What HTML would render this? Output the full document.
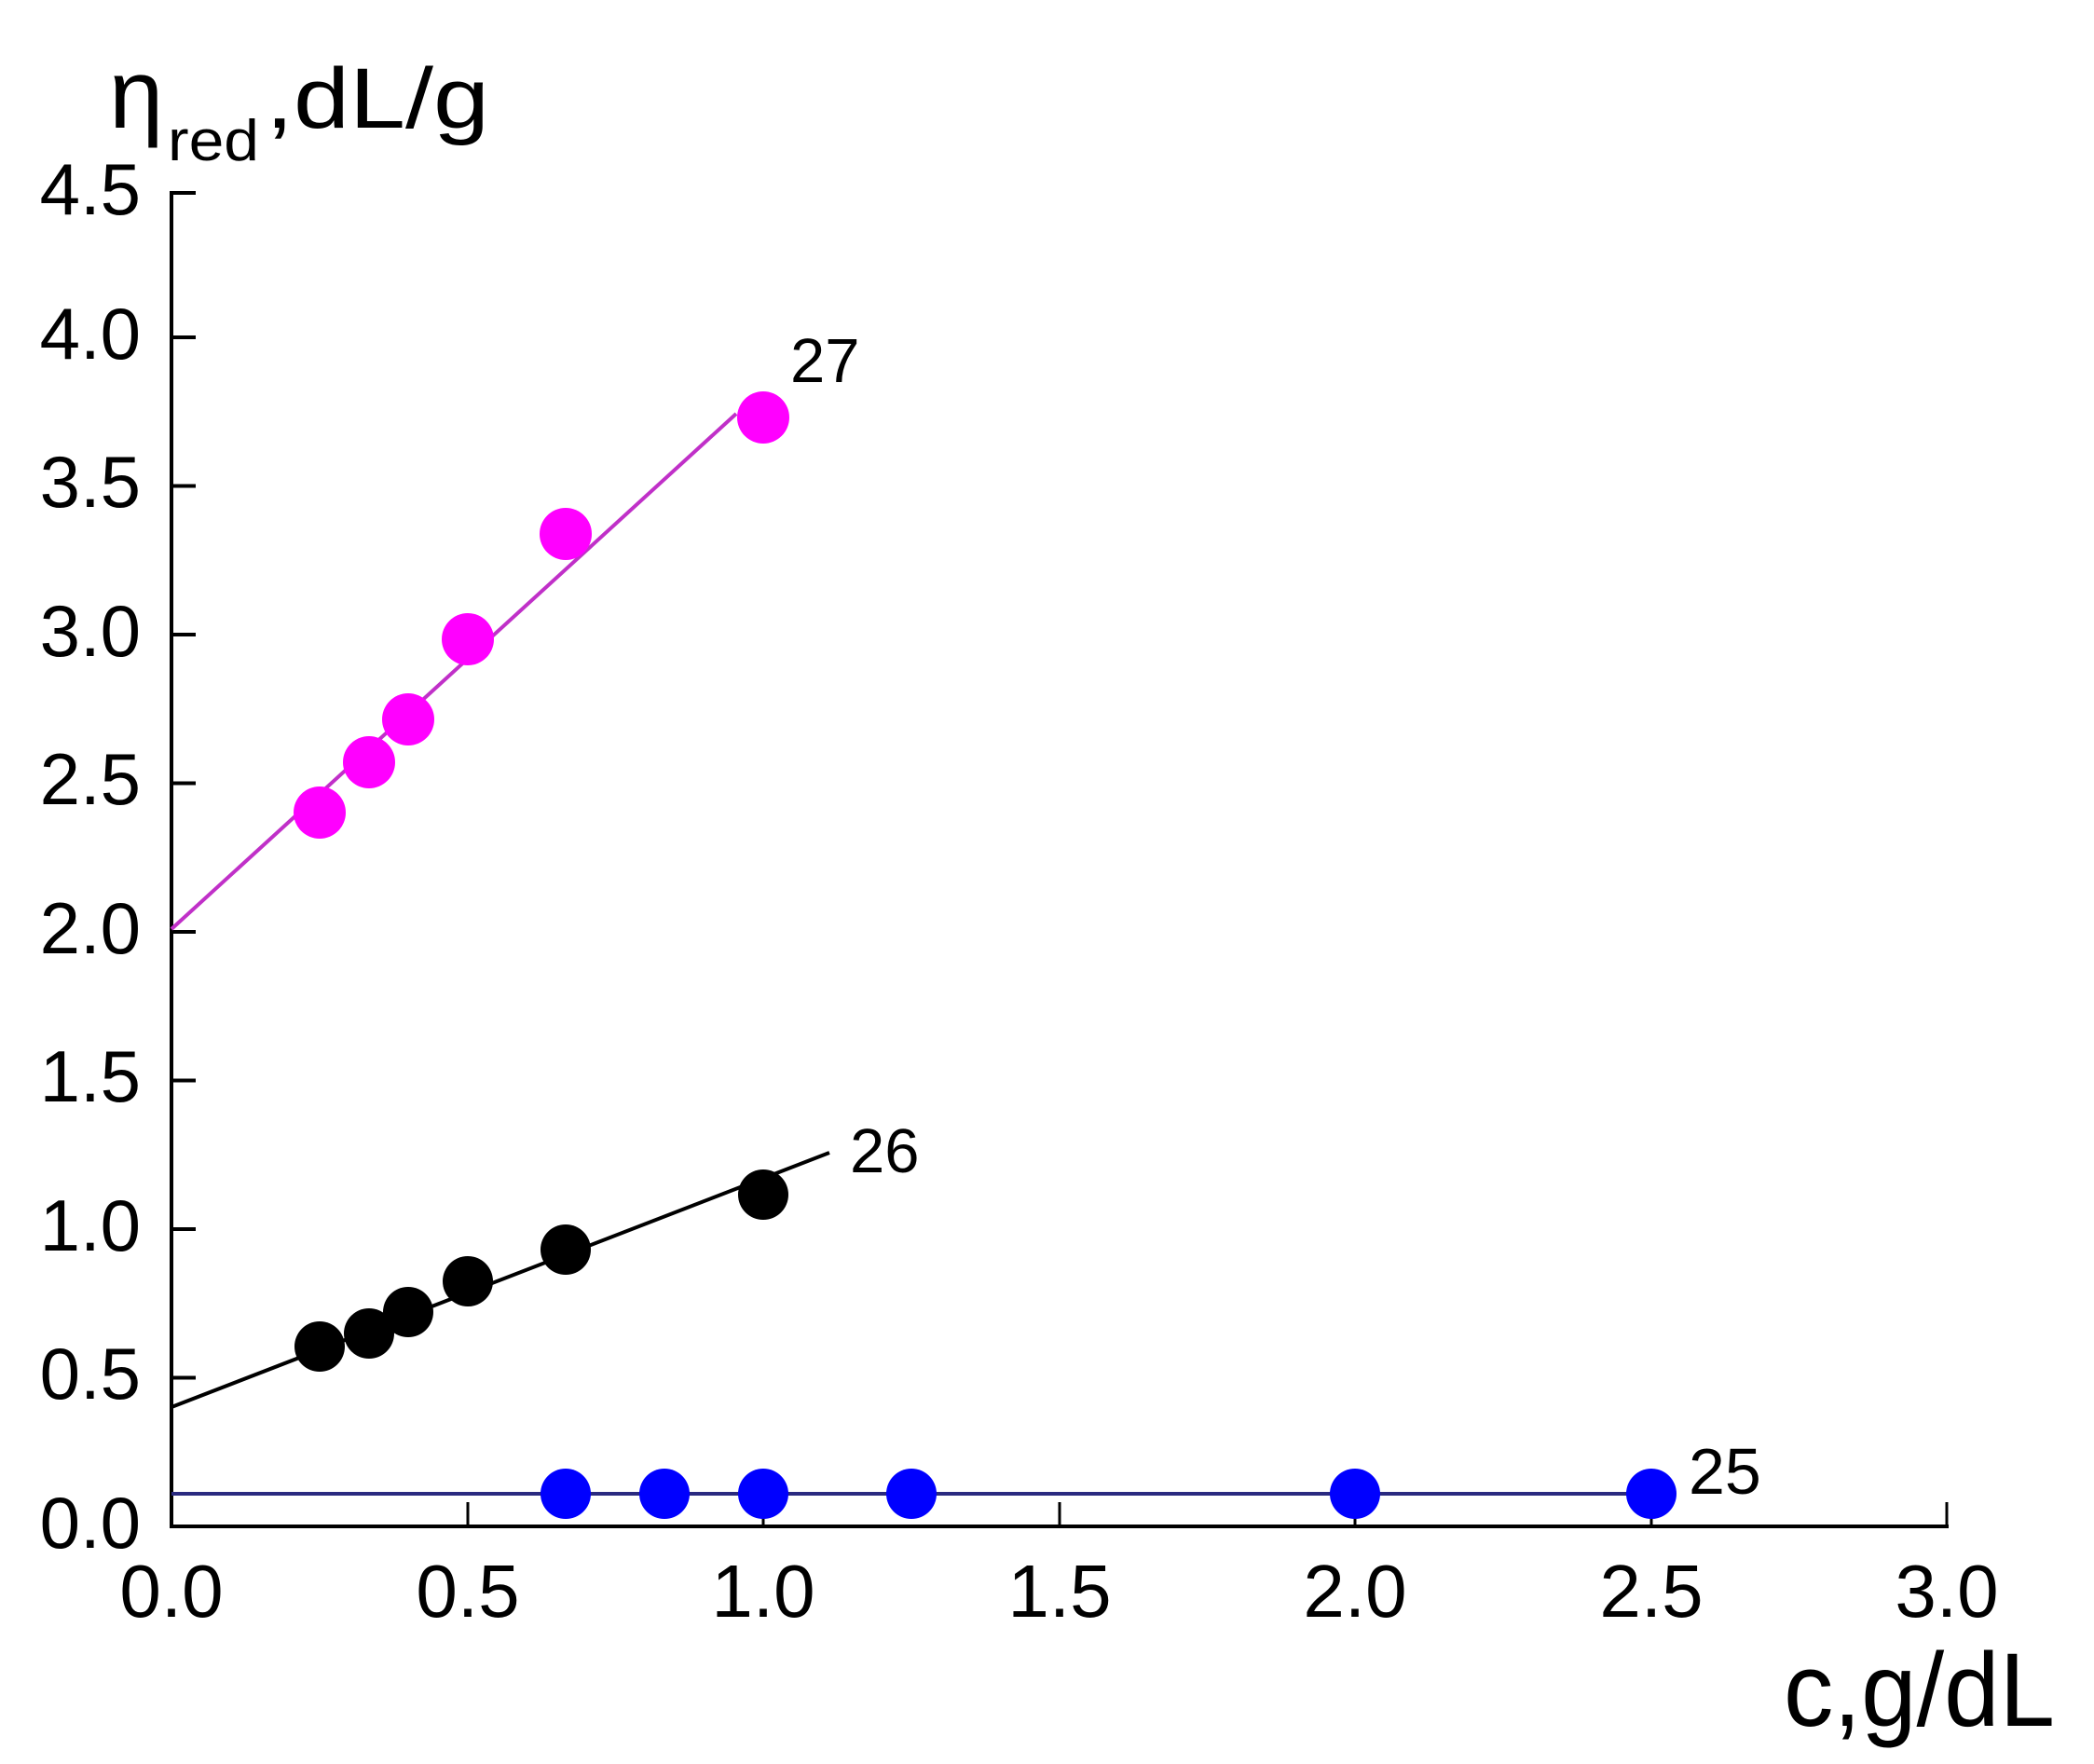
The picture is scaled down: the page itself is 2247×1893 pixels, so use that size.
<!DOCTYPE html>
<html><head><meta charset="utf-8"><style>
html,body{margin:0;padding:0;background:#fff;}
svg{display:block;font-family:"Liberation Sans",Arial,sans-serif;}
</style></head><body>
<svg width="2247" height="1893" viewBox="0 0 2247 1893" xmlns="http://www.w3.org/2000/svg">
<rect width="2247" height="1893" fill="#fff"/>
<g stroke="#000" stroke-width="4" fill="none">
<line x1="184" y1="205" x2="184" y2="1640"/>
<line x1="182" y1="1638" x2="2091" y2="1638"/>
<line x1="184" y1="1638" x2="210" y2="1638"/>
<line x1="184" y1="1478.5" x2="210" y2="1478.5"/>
<line x1="184" y1="1319" x2="210" y2="1319"/>
<line x1="184" y1="1159.5" x2="210" y2="1159.5"/>
<line x1="184" y1="1000" x2="210" y2="1000"/>
<line x1="184" y1="840.5" x2="210" y2="840.5"/>
<line x1="184" y1="681" x2="210" y2="681"/>
<line x1="184" y1="521.5" x2="210" y2="521.5"/>
<line x1="184" y1="362" x2="210" y2="362"/>
<line x1="184" y1="207" x2="210" y2="207"/>
<line x1="502" y1="1638" x2="502" y2="1612" stroke-width="3"/>
<line x1="819" y1="1638" x2="819" y2="1612" stroke-width="3"/>
<line x1="1137" y1="1638" x2="1137" y2="1612" stroke-width="3"/>
<line x1="1454" y1="1638" x2="1454" y2="1612" stroke-width="3"/>
<line x1="1772" y1="1638" x2="1772" y2="1612" stroke-width="3"/>
<line x1="2089" y1="1638" x2="2089" y2="1612" stroke-width="3"/>
</g>
<g font-size="78" text-anchor="end" fill="#000">
<text x="151" y="1661">0.0</text>
<text x="151" y="1501">0.5</text>
<text x="151" y="1342">1.0</text>
<text x="151" y="1182">1.5</text>
<text x="151" y="1023">2.0</text>
<text x="151" y="863">2.5</text>
<text x="151" y="704">3.0</text>
<text x="151" y="544">3.5</text>
<text x="151" y="385">4.0</text>
<text x="151" y="230">4.5</text>
</g>
<g font-size="80" text-anchor="middle" fill="#000">
<text x="184" y="1735">0.0</text>
<text x="502" y="1735">0.5</text>
<text x="819" y="1735">1.0</text>
<text x="1137" y="1735">1.5</text>
<text x="1454" y="1735">2.0</text>
<text x="1772" y="1735">2.5</text>
<text x="2089" y="1735">3.0</text>
</g>
<text x="1914" y="1852" font-size="112" textLength="291" lengthAdjust="spacingAndGlyphs">c,g/dL</text>
<text x="117" y="137" font-size="105">η</text>
<text x="180" y="172" font-size="62" textLength="98" lengthAdjust="spacingAndGlyphs">red</text>
<text x="285" y="137" font-size="92" textLength="240" lengthAdjust="spacingAndGlyphs">,dL/g</text>
<line x1="184" y1="997" x2="790" y2="444" stroke="#c030c8" stroke-width="4"/>
<g fill="#ff00ff">
<circle cx="343" cy="872" r="28"/>
<circle cx="396" cy="818" r="28"/>
<circle cx="438" cy="772" r="28"/>
<circle cx="502" cy="686" r="28"/>
<circle cx="607" cy="573" r="28"/>
<circle cx="819" cy="448" r="28"/>
</g>
<text x="848" y="410" font-size="67">27</text>
<line x1="184" y1="1510" x2="890" y2="1237" stroke="#000" stroke-width="4"/>
<g fill="#000">
<circle cx="343" cy="1445" r="27"/>
<circle cx="396" cy="1431" r="27"/>
<circle cx="438" cy="1408" r="27"/>
<circle cx="502" cy="1375" r="27"/>
<circle cx="607" cy="1341" r="27"/>
<circle cx="819" cy="1282" r="27"/>
</g>
<text x="912" y="1258" font-size="67">26</text>
<line x1="184" y1="1603" x2="1770" y2="1603" stroke="#2a2a80" stroke-width="4"/>
<g fill="#0000ff">
<circle cx="607" cy="1603" r="27"/>
<circle cx="713" cy="1603" r="27"/>
<circle cx="819" cy="1603" r="27"/>
<circle cx="978" cy="1603" r="27"/>
<circle cx="1454" cy="1603" r="27"/>
<circle cx="1772" cy="1603" r="27"/>
</g>
<text x="1812" y="1603" font-size="70">25</text>
</svg>
</body></html>
